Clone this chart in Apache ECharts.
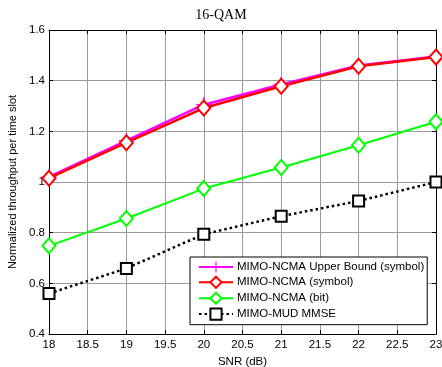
<!DOCTYPE html>
<html>
<head>
<meta charset="utf-8">
<style>
  html, body { margin: 0; padding: 0; background: #fff; }
  #chart { width: 442px; height: 367px; }
</style>
<script src="https://cdn.jsdelivr.net/npm/echarts@6/dist/echarts.min.js"></script>
</head>
<body>
<div id="chart"></div>
<script>
// SNR points (dB)
const snr = [18, 19, 20, 21, 22, 23];

// Normalized throughput per time slot for each scheme
const upperBoundSymbol = [1.020, 1.163, 1.305, 1.385, 1.460, 1.495];
const ncmaSymbol       = [1.015, 1.155, 1.292, 1.378, 1.457, 1.493];
const ncmaBit          = [0.748, 0.856, 0.974, 1.057, 1.145, 1.238];
const mudMmse          = [0.560, 0.659, 0.794, 0.865, 0.925, 1.000];

const seriesNames = [
  'MIMO-NCMA Upper Bound (symbol)',
  'MIMO-NCMA (symbol)',
  'MIMO-NCMA (bit)',
  'MIMO-MUD MMSE'
];

const plusPath = 'path://M-0.7,-7L0.7,-7L0.7,-0.7L7,-0.7L7,0.7L0.7,0.7L0.7,7L-0.7,7L-0.7,0.7L-7,0.7L-7,-0.7L-0.7,-0.7Z';

function pairs(ys) { return snr.map((x, i) => [x, ys[i]]); }

const font = 'Arial, "Liberation Sans", sans-serif';

const chart = echarts.init(document.getElementById('chart'), null, { renderer: 'canvas' });

const gridLine = { show: true, lineStyle: { color: '#9a9a9a', width: 1 } };
const tick = { show: true, inside: true, length: 4, lineStyle: { color: '#000' } };
const axLine = { show: true, onZero: false, lineStyle: { color: '#000', width: 1 } };

chart.setOption({
  animation: false,
  backgroundColor: '#fff',
  title: {
    text: '16-QAM',
    left: 'center',
    top: 3,
    textStyle: { fontFamily: '"Liberation Serif", "Times New Roman", serif', fontSize: 14, fontWeight: 'normal', color: '#000' }
  },
  grid: { left: 49, right: 6, top: 30, bottom: 33, outerBoundsMode: 'none', containLabel: false },
  xAxis: [{
    type: 'value', min: 18, max: 23, interval: 0.5,
    name: 'SNR (dB)', nameLocation: 'middle', nameGap: 22,
    nameTextStyle: { fontFamily: font, fontSize: 11.5, color: '#000' },
    axisLine: axLine, axisTick: tick, splitLine: gridLine,
    axisLabel: { fontFamily: font, fontSize: 11.5, color: '#000', margin: 5 }
  }, {
    type: 'value', min: 18, max: 23, interval: 0.5, position: 'top',
    axisLine: axLine, axisTick: tick, splitLine: { show: false }, axisLabel: { show: false }
  }],
  yAxis: [{
    type: 'value', min: 0.4, max: 1.6, interval: 0.2,
    name: 'Normalized throughput per time slot', nameLocation: 'middle', nameGap: 31,
    nameTextStyle: { fontFamily: font, fontSize: 11, color: '#000' },
    axisLine: axLine, axisTick: tick, splitLine: gridLine,
    axisLabel: { fontFamily: font, fontSize: 11.5, color: '#000', margin: 4 }
  }, {
    type: 'value', min: 0.4, max: 1.6, interval: 0.2, position: 'right',
    axisLine: axLine, axisTick: tick, splitLine: { show: false }, axisLabel: { show: false }
  }],
  legend: {
    orient: 'vertical',
    left: 190, top: 257,
    padding: [4, 3, 4, 8],
    itemGap: 2.7,
    itemWidth: 34, itemHeight: 14,
    backgroundColor: '#fff',
    borderColor: '#000', borderWidth: 1, borderRadius: 0,
    textStyle: { fontFamily: font, fontSize: 11.5, color: '#000', padding: [0, 0, 0, -1] },
    data: seriesNames
  },
  series: [
    {
      name: seriesNames[0], type: 'line', data: pairs(upperBoundSymbol),
      symbol: plusPath, symbolSize: 15,
      itemStyle: { color: '#ff00ff' },
      lineStyle: { color: '#ff00ff', width: 2.5 }
    },
    {
      name: seriesNames[1], type: 'line', data: pairs(ncmaSymbol),
      symbol: 'emptyDiamond', symbolSize: [13, 15],
      itemStyle: { color: '#ff0000', borderWidth: 2 },
      lineStyle: { color: '#ff0000', width: 2.5 }
    },
    {
      name: seriesNames[2], type: 'line', data: pairs(ncmaBit),
      symbol: 'emptyDiamond', symbolSize: [13, 15],
      itemStyle: { color: '#00ff00', borderWidth: 2 },
      lineStyle: { color: '#00ff00', width: 2 }
    },
    {
      name: seriesNames[3], type: 'line', data: pairs(mudMmse),
      symbol: 'emptyRect', symbolSize: 11,
      itemStyle: { color: '#000', borderWidth: 2 },
      lineStyle: { color: '#000', width: 2.5, type: [2.5, 3] }
    }
  ]
});
</script>
</body>
</html>
